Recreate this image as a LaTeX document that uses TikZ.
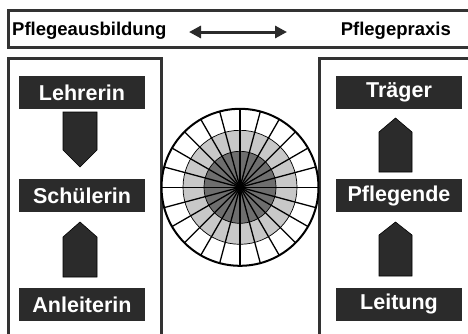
\documentclass[tikz,border=0pt]{standalone}
\usepackage{fontspec}
\setmainfont{Liberation Sans}
\usetikzlibrary{arrows.meta}
\definecolor{boxdark}{HTML}{2B2B2B}
\definecolor{framegray}{HTML}{333333}
\definecolor{ringlight}{HTML}{C8C8C8}
\definecolor{ringdark}{HTML}{6E6E6E}
\begin{document}
\begin{tikzpicture}[x=1pt,y=-1pt,
  rolebox/.style={fill=boxdark, text=white, font=\fontsize{21.5}{24}\selectfont\bfseries,
    minimum width=126pt, minimum height=33pt, inner sep=0pt},
  frameline/.style={draw=framegray, line width=2.7pt},
  pent/.style={fill=boxdark, draw=black, line width=0.6pt, line join=miter},
  toplabel/.style={font=\fontsize{18.5}{21}\selectfont\bfseries, inner sep=0pt}]
\useasboundingbox (0,0) rectangle (468,333);
% top bar
\draw[frameline] (470,10.3) -- (8.7,10.3) -- (8.7,47.3) -- (470,47.3);
\node[toplabel, anchor=west] (ausb) at (12,31) {Pflegeausbildung};
\node[toplabel, anchor=east] (prax) at (451,31) {Pflegepraxis};
\coordinate (dl) at (189,32);
\coordinate (dr) at (287,32);
\draw[draw=boxdark, line width=3pt, {Triangle[length=12pt,width=12pt]}-{Triangle[length=12pt,width=12pt]}] (dl) -- (dr);
% panels
\draw[frameline] (8.7,340) -- (8.7,58.7) -- (161.5,58.7) -- (161.5,340);
\draw[frameline] (319.5,340) -- (319.5,58.7) -- (470,58.7);
% role boxes
\node[rolebox] (lehr) at (82,92.5) {Lehrerin};
\node[rolebox] (schu) at (82,195.5) {Schülerin};
\node[rolebox] (anle) at (82,304.5) {Anleiterin};
\node[rolebox] (trae) at (399,92) {Träger};
\node[rolebox] (pfle) at (399,195.5) {Pflegende};
\node[rolebox] (leit) at (399,304.3) {Leitung};
% pentagon arrows
\draw[pent] (63,112) -- (97,112) -- (97,150) -- (80,167) -- (63,150) -- cycle;
\draw[pent] (63,277) -- (97,277) -- (97,237) -- (80,222) -- (63,237) -- cycle;
\draw[pent] (379,172) -- (412,172) -- (412,132) -- (395.5,118) -- (379,132) -- cycle;
\draw[pent] (379,276) -- (412,276) -- (412,235) -- (395.5,222) -- (379,235) -- cycle;
% wheel
\coordinate (c) at (240,187.3);
\fill[white] (c) circle[radius=78.5];
\fill[ringlight] (c) circle[radius=57];
\fill[ringdark] (c) circle[radius=36];
\draw[black, line width=0.7pt] (c) circle[radius=57];
\draw[black, line width=0.7pt] (c) circle[radius=36];
\foreach \a in {0,15,...,345} {
  \draw[black, line width=1.3pt] (c) -- ++(\a:78.5);
}
\draw[black, line width=2pt] (c) circle[radius=78.5];
\end{tikzpicture}
\end{document}
